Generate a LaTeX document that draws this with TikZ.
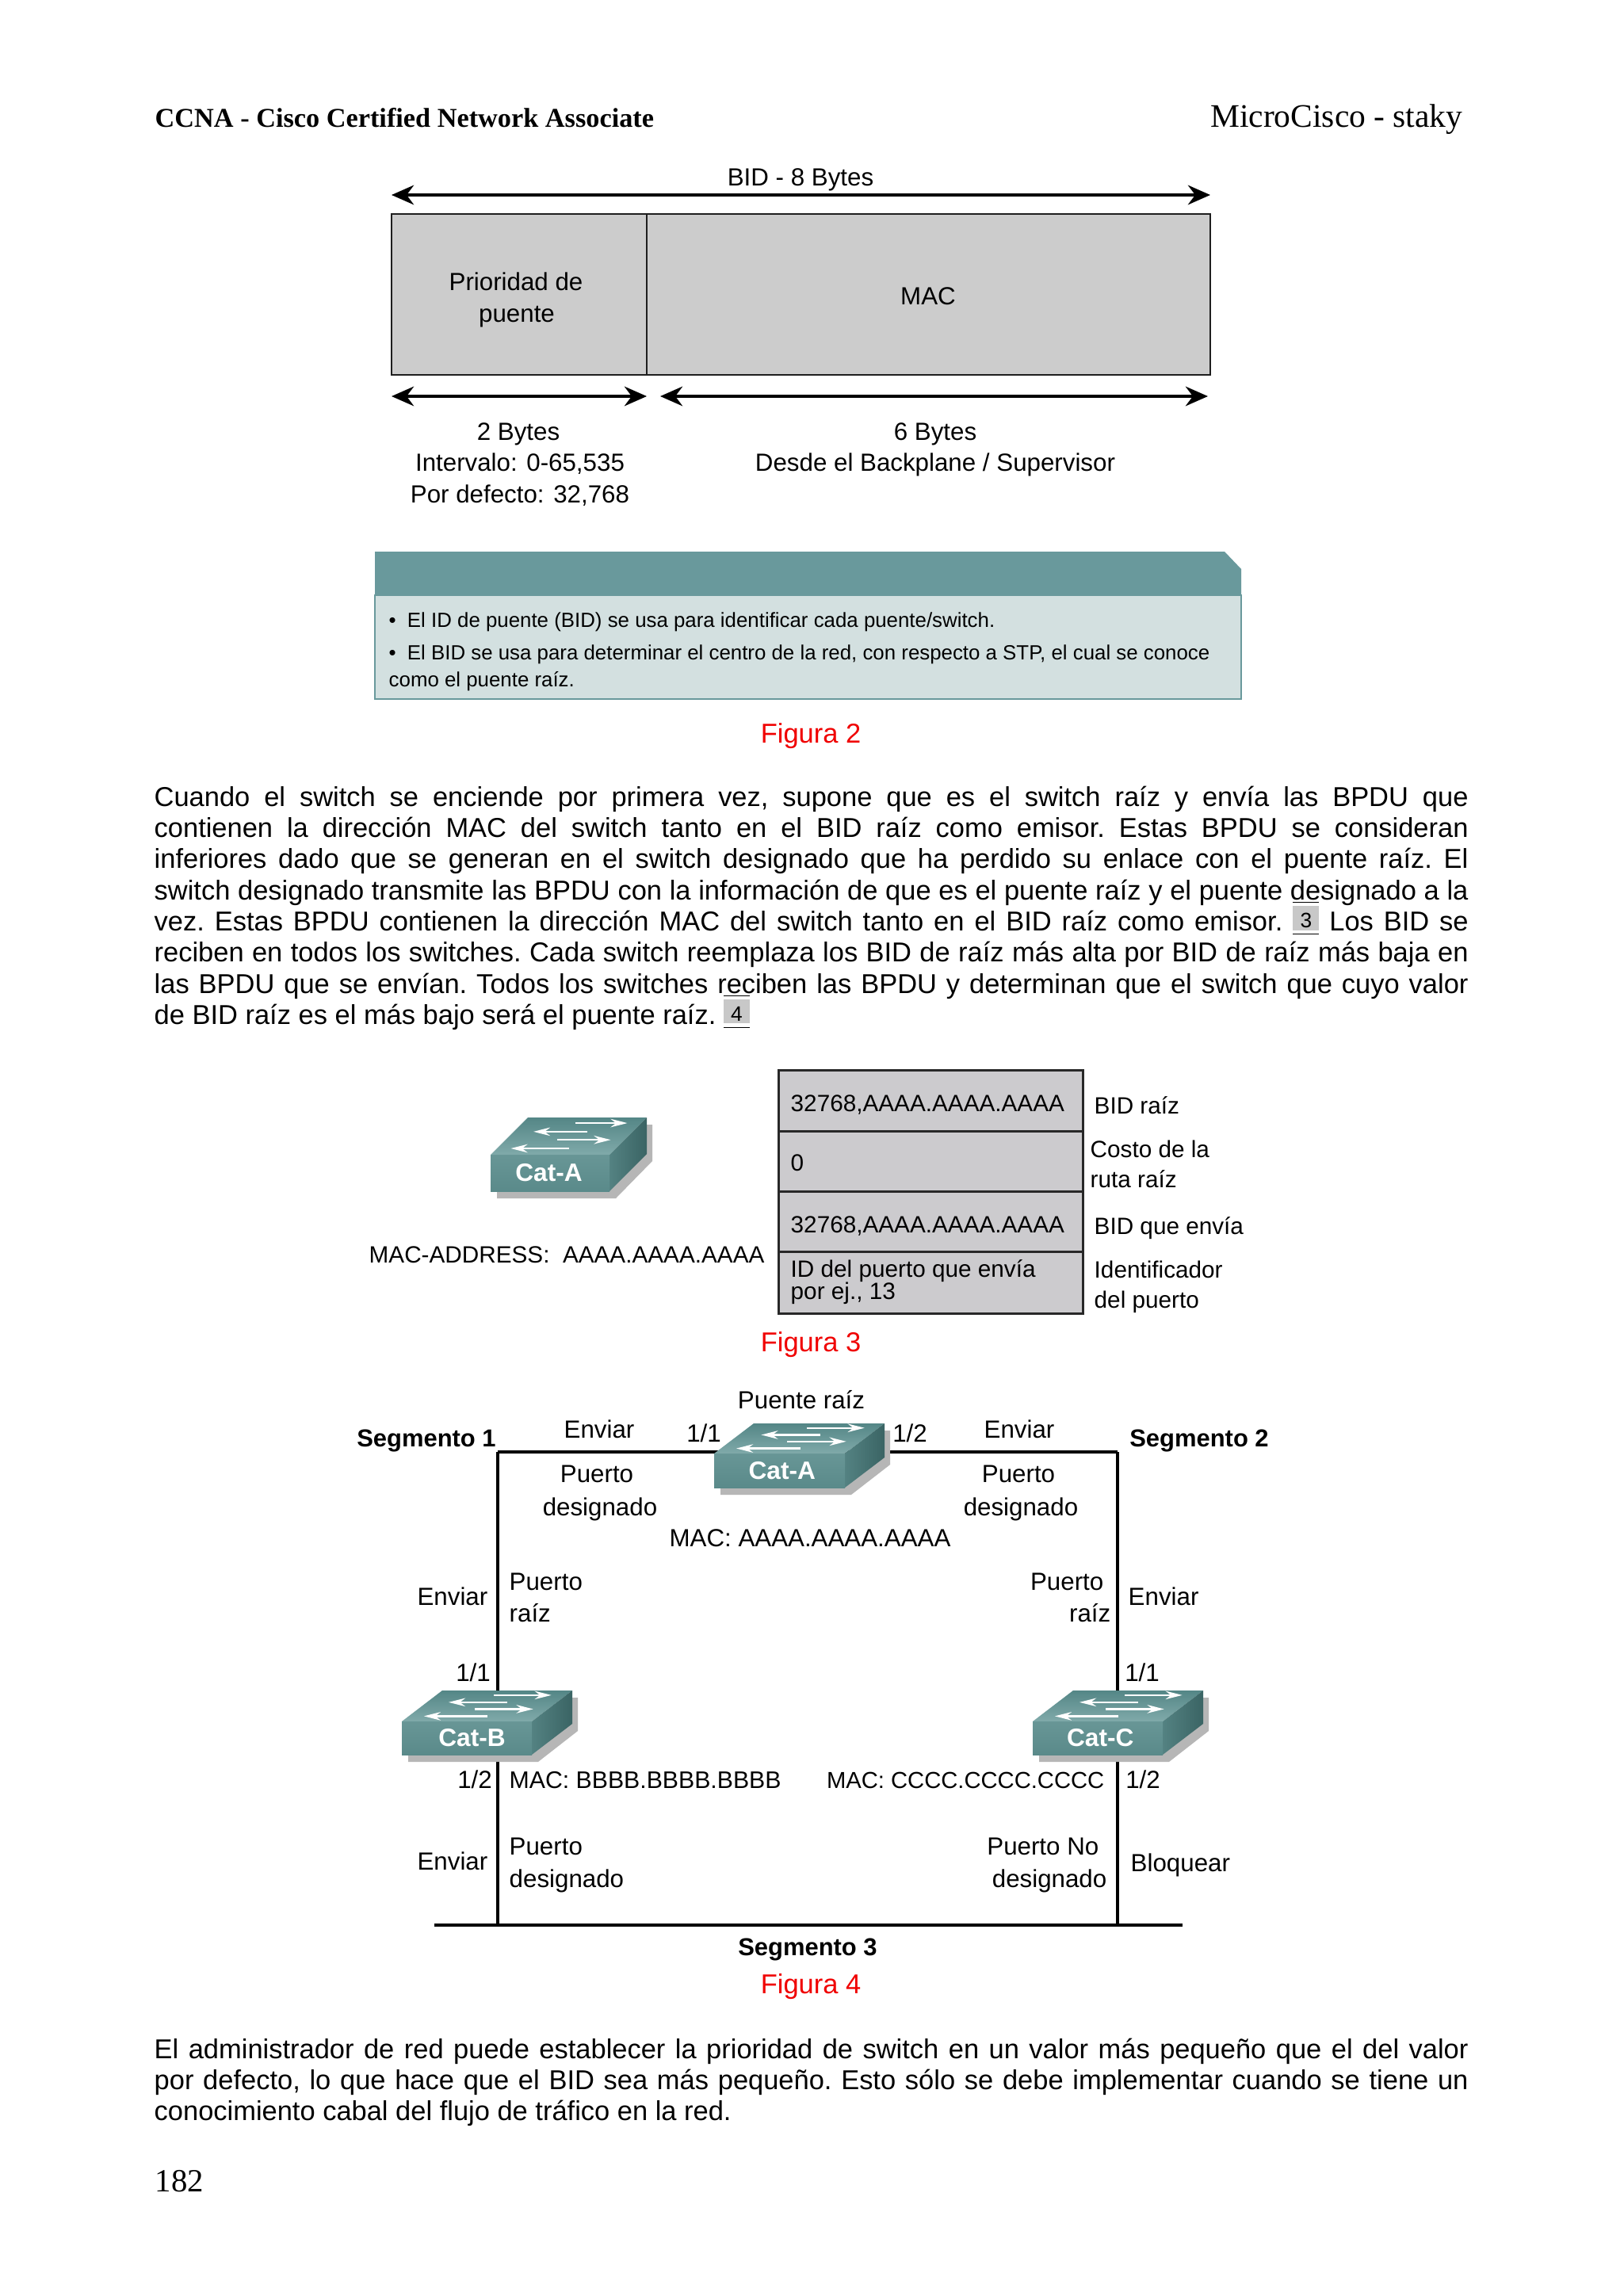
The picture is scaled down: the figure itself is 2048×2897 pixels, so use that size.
\documentclass[tikz,border=0pt]{standalone}
\usepackage{fontspec}
\setmainfont{Liberation Sans}
\newfontfamily\timesFont{Liberation Serif}
\usetikzlibrary{arrows.meta}

\definecolor{swTopA}{RGB}{128,170,170}
\definecolor{swTopB}{RGB}{84,134,134}
\definecolor{swFrontA}{RGB}{104,150,150}
\definecolor{swFrontB}{RGB}{90,138,138}
\definecolor{swSideA}{RGB}{84,130,130}
\definecolor{swSideB}{RGB}{58,100,100}

% switch: name, x, y, width, height, depth x, depth y, text, text position
\newcommand{\catSwitch}[9]{
\begin{scope}[shift={(#2, #3)}]
\fill [style=swShadow] (8, #5) -- (8, #5+9) -- (#4+8, #5+9) -- (#4+#6+7, #5-#7+9) -- (#4+#6+7, -#7+9) -- (#4+#6, -#7+9) -- (#4, #5) -- cycle;
\shade [top color=swTopB, bottom color=swTopA] (0, 0) -- (#6, -#7) -- (#4+#6, -#7) -- (#4, 0) -- cycle;
\shade [left color=swSideA, right color=swSideB] (#4, 0) -- (#4+#6, -#7) -- (#4+#6, #5-#7) -- (#4, #5) -- cycle;
\shade [top color=swFrontA, bottom color=swFrontB] (0, 0) rectangle (#4, #5);
\foreach \ua/\ub/\vv in {0.71/1.15/0.85, 0.81/0.36/0.62, 0.56/1.01/0.40, 0.66/0.17/0.17}
	\draw [style=swArrow] ({\ua*#4}, {-\vv*#7}) to ({\ub*#4}, {-\vv*#7});
\node [style=swText] (#1) at ({#9*#4}, {0.5*#5}) {#8};
\end{scope}
}
\newcommand{\refMark}[1]{\setlength{\fboxsep}{0pt}\raisebox{0.04cm}[0pt][0pt]{\ensuremath{\overline{\underline{\hbox{\colorbox[RGB]{200,200,200}{\makebox[0.33cm]{\rule[-0.03cm]{0pt}{0.3cm}\fontsize{7.5}{7.5}\selectfont #1}}}}}}}}

\begin{document}
\begin{tikzpicture}[x=0.01cm, y=-0.01cm]
% Styles
\tikzstyle{none} = []
\tikzstyle{plainText}=[font=\fontsize{8.9}{10}\selectfont, inner sep=0pt, text height=0.82em, text depth=0.2em]
\tikzstyle{leftText}=[style=plainText, anchor=west]
\tikzstyle{rightText}=[style=plainText, anchor=east]
\tikzstyle{tableText}=[style=leftText, font=\fontsize{8.45}{10}\selectfont]
\tikzstyle{boldText}=[style=plainText, font=\fontsize{8.8}{10}\selectfont\bfseries]
\tikzstyle{smallText}=[style=leftText, font=\fontsize{7.35}{9}\selectfont]
\tikzstyle{redText}=[style=plainText, font=\fontsize{9.8}{11}\selectfont, text={rgb,255: red,240; green,0; blue,0}]
\tikzstyle{paragraph}=[anchor=north west, inner sep=0pt, text width=16.57cm, align=justify, font=\frenchspacing\fontsize{9.8}{11.18}\selectfont]
\tikzstyle{greyBox}=[fill={rgb,255: red,204; green,204; blue,204}, draw={rgb,255: red,30; green,30; blue,30}, line width=0.8pt]
\tikzstyle{tableBox}=[fill={rgb,255: red,204; green,203; blue,206}, draw={rgb,255: red,40; green,40; blue,40}, line width=0.85pt]
\tikzstyle{tealHead}=[fill={rgb,255: red,105; green,153; blue,156}]
\tikzstyle{tealBody}=[fill={rgb,255: red,211; green,224; blue,224}, draw={rgb,255: red,105; green,153; blue,156}, line width=0.6pt]
\tikzstyle{dimArrow}=[draw=black, {Stealth[length=8pt, width=7pt]}-{Stealth[length=8pt, width=7pt]}, line width=1.1pt]
\tikzstyle{ringLine}=[draw=black, line width=1.1pt]
\tikzstyle{busLine}=[draw=black, line width=1.2pt]
\tikzstyle{swShadow}=[fill={rgb,255: red,182; green,182; blue,182}]
\tikzstyle{swArrow}=[draw=white, -{Stealth[length=6pt, width=3pt]}, line width=0.65pt]
\tikzstyle{swText}=[font=\fontsize{9}{10}\selectfont\bfseries, text=white, inner sep=0pt]

\useasboundingbox (0, 0) rectangle (2048, 2897);
\fill [white] (0, 0) rectangle (2048, 2897);

% Header
\node [anchor=base west, inner sep=0pt, font=\fontsize{9.75}{11}\selectfont\timesFont\bfseries] (head1) at (195, 160) {CCNA - Cisco Certified Network Associate};
\node [anchor=base east, inner sep=0pt, font=\fontsize{11.8}{14}\selectfont\timesFont] (head2) at (1846, 160) {MicroCisco - staky};

% Figura 2
\node [style=plainText] (bid) at (1010, 224) {BID - 8 Bytes};
\node [style=none] (1) at (494, 246) {};
\node [style=none] (2) at (1527, 246) {};
\draw [style=dimArrow] (1.center) to (2.center);
\draw [style=greyBox] (494, 270) rectangle (816, 473);
\draw [style=greyBox] (816, 270) rectangle (1527, 473);
\node [style=plainText] (prio1) at (651, 356) {Prioridad de};
\node [style=plainText] (prio2) at (652, 396) {puente};
\node [style=plainText] (mac) at (1171, 374) {MAC};
\node [style=none] (3) at (494, 500) {};
\node [style=none] (4) at (816, 500) {};
\node [style=none] (5) at (833, 500) {};
\node [style=none] (6) at (1524, 500) {};
\draw [style=dimArrow] (3.center) to (4.center);
\draw [style=dimArrow] (5.center) to (6.center);
\node [style=plainText] (two1) at (654, 545) {2 Bytes};
\node [style=plainText] (two2) at (656, 584) {Intervalo: 0-65,535};
\node [style=plainText] (two3) at (656, 624) {Por defecto: 32,768};
\node [style=plainText] (six1) at (1180, 545) {6 Bytes};
\node [style=plainText] (six2) at (1180, 584) {Desde el Backplane / Supervisor};
\fill [style=tealHead] (473, 696) -- (1545, 696) -- (1566, 718) -- (1566, 751) -- (473, 751) -- cycle;
\draw [style=tealBody] (473, 751) rectangle (1566, 882);
\node [style=smallText] (note1) at (490, 781) {\textbullet\hspace{0.55em}El ID de puente (BID) se usa para identificar cada puente/switch.};
\node [style=smallText] (note2) at (490, 822) {\textbullet\hspace{0.55em}El BID se usa para determinar el centro de la red, con respecto a STP, el cual se conoce};
\node [style=smallText] (note3) at (490, 856) {como el puente raíz.};
\node [style=redText] (fig2) at (1023, 927) {Figura 2};

% Texto
\node [style=paragraph] (par1) at (194, 989) {\strut Cuando el switch se enciende por primera vez, supone que es el switch raíz y envía las BPDU que\linebreak
contienen la dirección MAC del switch tanto en el BID raíz como emisor. Estas BPDU se consideran\linebreak
inferiores dado que se generan en el switch designado que ha perdido su enlace con el puente raíz. El\linebreak
switch designado transmite las BPDU con la información de que es el puente raíz y el puente designado a la\linebreak
vez. Estas BPDU contienen la dirección MAC del switch tanto en el BID raíz como emisor. \refMark{3} Los BID se\linebreak
reciben en todos los switches. Cada switch reemplaza los BID de raíz más alta por BID de raíz más baja en\linebreak
las BPDU que se envían. Todos los switches reciben las BPDU y determinan que el switch que cuyo valor\linebreak
de BID raíz es el más bajo será el puente raíz. \refMark{4}};

% Figura 3
\catSwitch{catA3}{619}{1457}{150}{46}{47}{47}{Cat-A}{0.49}
\node [style=tableText] (macA) at (465, 1583) {MAC-ADDRESS:\ \ AAAA.AAAA.AAAA};
\draw [style=tableBox] (982, 1350) rectangle (1366, 1427);
\draw [style=tableBox] (982, 1427) rectangle (1366, 1503);
\draw [style=tableBox] (982, 1503) rectangle (1366, 1579);
\draw [style=tableBox] (982, 1579) rectangle (1366, 1657);
\node [style=tableText] (row1) at (997, 1392) {32768,AAAA.AAAA.AAAA};
\node [style=tableText] (row2) at (997, 1467) {0};
\node [style=tableText] (row3) at (997, 1545) {32768,AAAA.AAAA.AAAA};
\node [style=tableText] (row4a) at (997, 1601) {ID del puerto que envía};
\node [style=tableText] (row4b) at (997, 1629) {por ej., 13};
\node [style=tableText] (name1) at (1380, 1395) {BID raíz};
\node [style=tableText] (name2a) at (1375, 1450) {Costo de la};
\node [style=tableText] (name2b) at (1375, 1488) {ruta raíz};
\node [style=tableText] (name3) at (1380, 1547) {BID que envía};
\node [style=tableText] (name4a) at (1380, 1602) {Identificador};
\node [style=tableText] (name4b) at (1380, 1640) {del puerto};
\node [style=redText] (fig3) at (1023, 1695) {Figura 3};

% Figura 4
\node [style=none] (7) at (628, 1832) {};
\node [style=none] (8) at (1410, 1832) {};
\node [style=none] (9) at (628, 2429) {};
\node [style=none] (10) at (1410, 2429) {};
\node [style=none] (11) at (548, 2429) {};
\node [style=none] (12) at (1492, 2429) {};
\draw [style=ringLine] (9.center) to (7.center);
\draw [style=ringLine] (7.center) to (8.center);
\draw [style=ringLine] (8.center) to (10.center);
\draw [style=busLine] (11.center) to (12.center);
\catSwitch{catA}{901}{1834}{165}{43}{50}{38}{Cat-A}{0.52}
\catSwitch{catB}{507}{2172}{164}{42}{51}{39}{Cat-B}{0.54}
\catSwitch{catC}{1303}{2172}{164}{42}{51}{39}{Cat-C}{0.52}
\node [style=plainText] (root) at (1011, 1767) {Puente raíz};
\node [style=boldText] (seg1) at (538, 1815) {Segmento 1};
\node [style=boldText] (seg2) at (1513, 1815) {Segmento 2};
\node [style=boldText] (seg3) at (1019, 2457) {Segmento 3};
\node [style=plainText] (sendA1) at (756, 1804) {Enviar};
\node [style=plainText] (sendA2) at (1286, 1804) {Enviar};
\node [style=plainText] (portA1) at (888, 1809) {1/1};
\node [style=plainText] (portA2) at (1148, 1809) {1/2};
\node [style=plainText] (desA1a) at (753, 1860) {Puerto};
\node [style=plainText] (desA1b) at (757, 1902) {designado};
\node [style=plainText] (desA2a) at (1285, 1860) {Puerto};
\node [style=plainText] (desA2b) at (1288, 1902) {designado};
\node [style=plainText] (macCatA) at (1022, 1941) {MAC: AAAA.AAAA.AAAA};
\node [style=rightText] (sendB1) at (616, 2015) {Enviar};
\node [style=leftText] (rootB1) at (642, 1996) {Puerto};
\node [style=leftText] (rootB2) at (642, 2036) {raíz};
\node [style=rightText] (rootC1) at (1393, 1996) {Puerto};
\node [style=rightText] (rootC2) at (1402, 2036) {raíz};
\node [style=leftText] (sendC1) at (1423, 2015) {Enviar};
\node [style=plainText] (portB1) at (597, 2111) {1/1};
\node [style=plainText] (portC1) at (1441, 2111) {1/1};
\node [style=plainText] (portB2) at (599, 2246) {1/2};
\node [style=plainText] (portC2) at (1442, 2246) {1/2};
\node [style=leftText, font=\fontsize{8.6}{10}\selectfont] (macCatB) at (642, 2246) {MAC: BBBB.BBBB.BBBB};
\node [style=rightText, font=\fontsize{8.3}{10}\selectfont] (macCatC) at (1394, 2246) {MAC: CCCC.CCCC.CCCC};
\node [style=rightText] (sendB2) at (616, 2349) {Enviar};
\node [style=leftText] (desB1) at (642, 2330) {Puerto};
\node [style=leftText] (desB2) at (642, 2371) {designado};
\node [style=rightText] (nonC1) at (1387, 2330) {Puerto No};
\node [style=rightText] (nonC2) at (1397, 2371) {designado};
\node [style=leftText] (blockC) at (1426, 2351) {Bloquear};
\node [style=redText] (fig4) at (1023, 2505) {Figura 4};

% Texto y pagina
\node [style=paragraph] (par2) at (194, 2569) {\strut El administrador de red puede establecer la prioridad de switch en un valor más pequeño que el del valor\linebreak
por defecto, lo que hace que el BID sea más pequeño. Esto sólo se debe implementar cuando se tiene un\linebreak
conocimiento cabal del flujo de tráfico en la red.};
\node [anchor=base west, inner sep=0pt, font=\fontsize{11.6}{13}\selectfont\timesFont] (page) at (195, 2765) {182};
\end{tikzpicture}
\end{document}
